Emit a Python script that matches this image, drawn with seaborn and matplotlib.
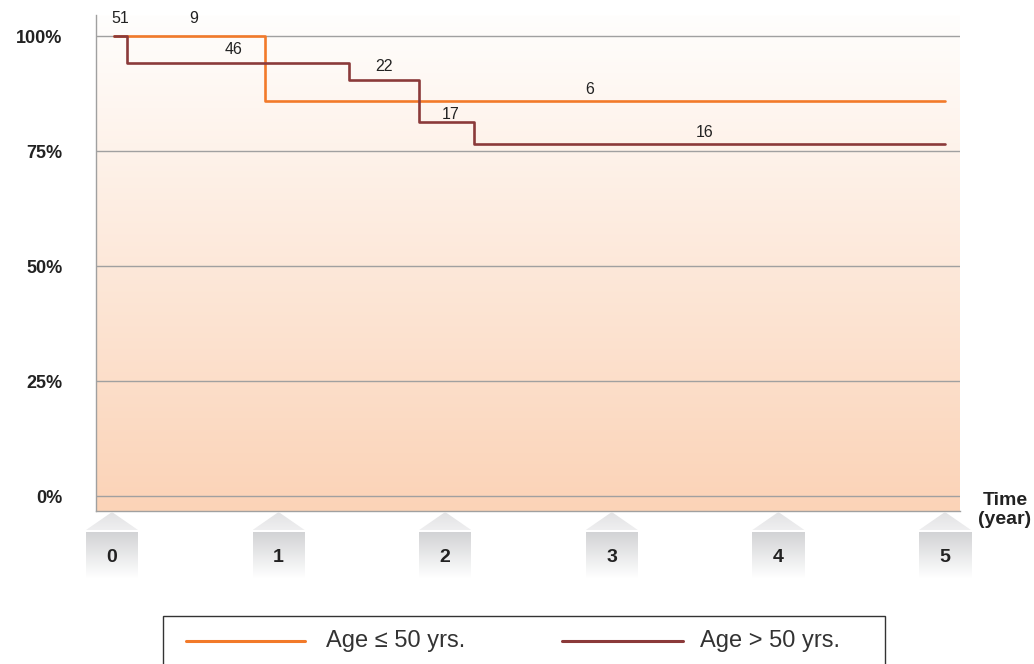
import numpy as np
import pandas as pd
import matplotlib
matplotlib.use("Agg")
import matplotlib.pyplot as plt
import seaborn as sns
from matplotlib.patches import Polygon, Rectangle
from matplotlib.lines import Line2D
from matplotlib.colors import LinearSegmentedColormap

# Kaplan-Meier style step data: time (years) vs. survival (%)
young_time = [0.01, 0.92, 5.0]
young_surv = [100, 85.9, 85.9]
old_time = [0.01, 0.09, 1.42, 1.84, 2.17, 5.0]
old_surv = [100, 94.1, 90.4, 81.3, 76.5, 76.5]

# numbers at risk written along the curves
risk_labels = ["51", "9", "46", "22", "17", "6", "16"]
risk_x = [0.05, 0.49, 0.73, 1.63, 2.03, 2.87, 3.56]
risk_y = [103.9, 103.9, 97.0, 93.5, 83.0, 88.5, 79.1]

year_ticks = [0, 1, 2, 3, 4, 5]
pct_ticks = [0, 25, 50, 75, 100]
groups = ["Age \u2264 50 yrs.", "Age > 50 yrs."]
colors = ["#f27a2a", "#8b3a3a"]

sns.set_style("white")
plt.rcParams["font.family"] = ["Liberation Sans", "DejaVu Sans"]

df = pd.concat([
    pd.DataFrame({"time": young_time, "surv": young_surv, "group": groups[0]}),
    pd.DataFrame({"time": old_time, "surv": old_surv, "group": groups[1]}),
])

W, H = 1034, 664
fig = plt.figure(figsize=(W / 100, H / 100), dpi=100)
ax = fig.add_axes([96 / W, 153 / H, 864 / W, 496 / H])

# x pixel 112 -> year 0, 945 -> year 5
def px2t(px):
    return (px - 112) / 166.6

xmin, xmax = px2t(96), px2t(960)
ymin, ymax = -3.26, 104.6

# peach background gradient
bg = LinearSegmentedColormap.from_list("bg", ["#fffefd", "#fbd3b7"])
ax.imshow(np.linspace(0, 1, 256).reshape(-1, 1), cmap=bg, aspect="auto",
          extent=[xmin, xmax, ymin, ymax], origin="upper", zorder=0)

sns.lineplot(data=df, x="time", y="surv", hue="group", palette=colors,
             drawstyle="steps-post", estimator=None, sort=False, legend=False,
             linewidth=1.9, ax=ax, zorder=3)

for lab, x, y in zip(risk_labels, risk_x, risk_y):
    ax.text(x, y, lab, ha="center", va="center", fontsize=11.5, color="#222222", zorder=4)

ax.set_xlim(xmin, xmax)
ax.set_ylim(ymin, ymax)
ax.set_xticks([])
ax.set_yticks(pct_ticks)
ax.set_yticklabels([f"{v}%" for v in pct_ticks], fontweight="bold", fontsize=13, color="#222222")
ax.tick_params(axis="y", length=18.7, width=1, color="#a0a0a0", pad=5.5)
ax.yaxis.grid(True, color="#a0a0a0", linewidth=1)
ax.set_axisbelow("line")
ax.set_xlabel("")
ax.set_ylabel("")
for s in ["top", "right"]:
    ax.spines[s].set_visible(False)
for s in ["left", "bottom"]:
    ax.spines[s].set_color("#a0a0a0")
    ax.spines[s].set_linewidth(1)

# tick "tabs" under the axis (pixel rows as y units)
ax2 = fig.add_axes([40 / W, 84 / H, 940 / W, 69 / H])
ax2.axis("off")
hw = 26 / 166.6
box = LinearSegmentedColormap.from_list("box", ["#d2d3d5", "#ffffff"])
tri = LinearSegmentedColormap.from_list("tri", ["#e2e2e4", "#efeff0"])
grad = np.linspace(0, 1, 128).reshape(-1, 1)
for t in year_ticks:
    p = Polygon([(t - hw, 530), (t, 512), (t + hw, 530)], closed=True,
                facecolor="none", edgecolor="none")
    ax2.add_patch(p)
    im = ax2.imshow(grad, cmap=tri, aspect="auto", origin="upper",
                    extent=[t - hw, t + hw, 530, 512])
    im.set_clip_path(p)
    ax2.imshow(grad, cmap=box, aspect="auto", origin="upper",
               extent=[t - hw, t + hw, 578, 532])
    ax2.text(t, 557, str(t), ha="center", va="center", fontsize=14,
             fontweight="bold", color="#222222")
ax2.set_xlim(px2t(40), px2t(980))
ax2.set_ylim(580, 511)

fig.text(1005 / W, (H - 510) / H, "Time\n(year)", ha="center", va="center",
         fontsize=14, fontweight="bold", color="#222222", linespacing=1.2)

# legend drawn as a framed strip at the bottom
fig.add_artist(Rectangle((163 / W, -0.05), (885 - 163) / W, 0.05 + (H - 616) / H,
                         transform=fig.transFigure, fill=False, edgecolor="#333333", lw=1))
ly = (H - 641) / H
for (x0, x1, tx), name, c in zip([(186, 305, 326), (562, 683, 700)], groups, colors):
    fig.add_artist(Line2D([x0 / W, x1 / W], [ly, ly], color=c, lw=2.2,
                          transform=fig.transFigure))
    fig.text(tx / W, ly, name, ha="left", va="center", fontsize=17, color="#333333")

fig.savefig("out.png", dpi=100)
